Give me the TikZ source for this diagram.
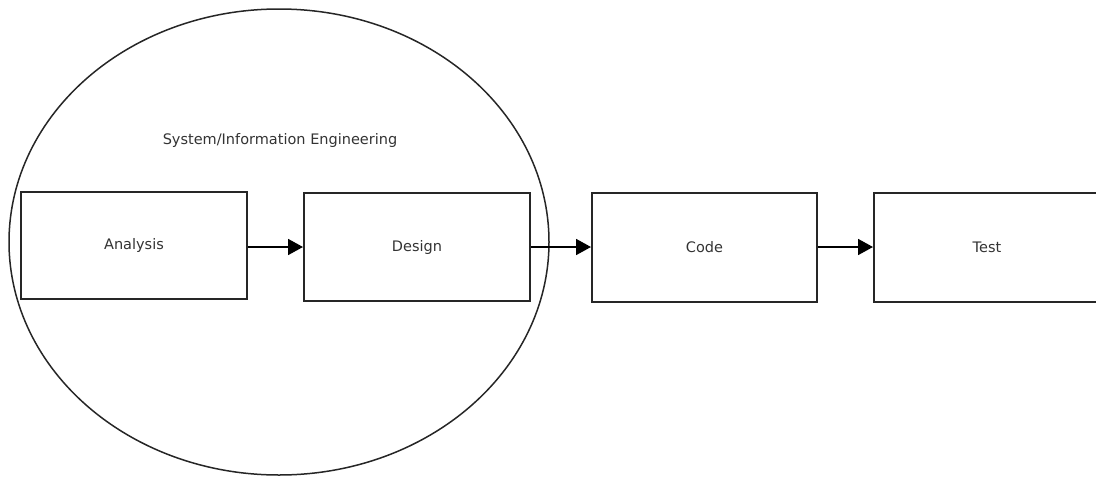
\documentclass[tikz,border=0pt]{standalone}
\usepackage{fontspec}
\setmainfont{DejaVu Sans}
\usetikzlibrary{shapes.geometric,arrows.meta}
\begin{document}
\begin{tikzpicture}[x=1pt,y=-1pt,
  lbltext/.style={font=\fontsize{14.5}{17}\selectfont,text=black!80},
  stagebox/.style={draw=black!85,line width=2pt,rectangle,inner sep=0pt,lbltext},
  flow/.style={draw=black,line width=1.8pt,-{Triangle[length=15pt,width=16pt]}}]
\useasboundingbox (0,0) rectangle (1096,477);
\clip (0,0) rectangle (1096,477);
\node[draw=black!85,line width=1.5pt,ellipse,minimum width=540pt,minimum height=466pt,inner sep=0pt] (sie) at (279,242) {};
\node[lbltext] (lbl) at (280,140) {System/Information Engineering};
\node[stagebox,minimum width=226pt,minimum height=107pt] (analysis) at (134,245.5) {Analysis};
\node[stagebox,minimum width=226pt,minimum height=108pt] (design) at (417,247) {Design};
\node[stagebox,minimum width=225pt,minimum height=109pt] (code) at (704.5,247) {Code};
\node[stagebox,minimum width=226pt,minimum height=109pt] (test) at (987,247.5) {Test};
\draw[flow] (analysis.east |- 0,247) -- (design.west |- 0,247);
\draw[flow] (design.east |- 0,247) -- (code.west |- 0,247);
\draw[flow] (code.east |- 0,247) -- (test.west |- 0,247);
\end{tikzpicture}
\end{document}
